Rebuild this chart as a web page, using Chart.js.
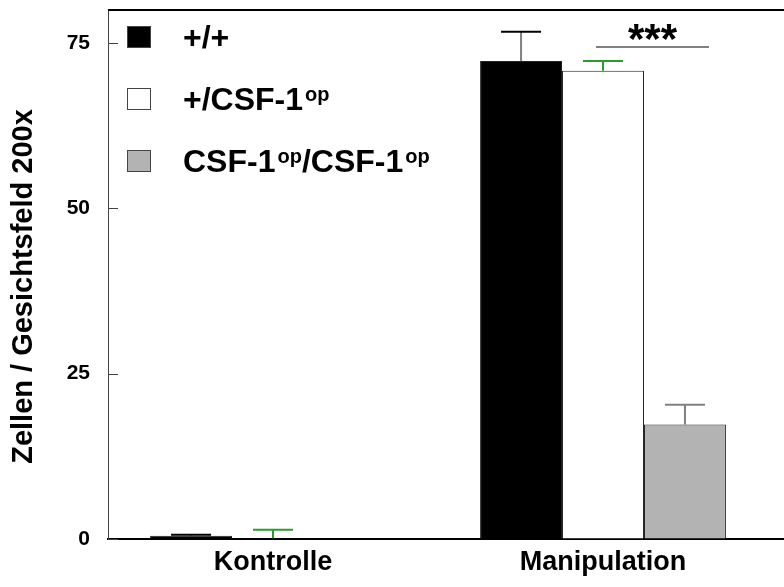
<!DOCTYPE html>
<html lang="de">
<head>
<meta charset="utf-8">
<title>Zellen / Gesichtsfeld 200x</title>
<script src="https://cdn.jsdelivr.net/npm/chart.js@4/dist/chart.umd.min.js"></script>
<style>
    html, body { margin: 0; padding: 0; background: #fff; }
    #wrap { position: relative; width: 784px; height: 587px; overflow: hidden; }
    #legend {
        position: absolute; left: 127px; top: 6px;
        font-family: "Liberation Sans", Arial, sans-serif; font-weight: bold; font-size: 32px; color: #000;
    }
    .item { display: flex; align-items: center; height: 62px; }
    .box { width: 24px; height: 22px; box-sizing: border-box; margin-right: 32px; border: 1px solid #444; }
    .item sup { font-size: 20px; vertical-align: 0; position: relative; top: -9px; margin-left: 2px; }
</style>
</head>
<body>
<div id="wrap">
    <canvas id="cellChart" width="784" height="587"></canvas>
    <div id="legend"></div>
</div>
<script>
// 数据
const categories = ['Kontrolle', 'Manipulation'];
const seriesNames = ['+/+', '+/CSF-1op', 'CSF-1op/CSF-1op'];
const wildtype = [0.5, 72.3];
const heterozygous = [0.1, 70.8];
const homozygous = [0, 17.3];
const wildtypeErr = [0.15, 4.4];
const heterozygousErr = [1.3, 1.5];
const homozygousErr = [0, 3.0];
const yTicks = [0, 25, 50, 75];
const yMax = 80;
const yTitle = 'Zellen / Gesichtsfeld 200x';
const sigLevel = 74.4;   // Höhe der Signifikanzlinie
const sigText = '***';

const seriesFill = ['#000000', '#ffffff', '#b3b3b3'];
const stemColors = ['#808080', '#2a9d2a', '#808080'];
const capColors = ['#000000', '#2a9d2a', '#808080'];
const FONT = '"Liberation Sans", Arial, sans-serif';

document.addEventListener('DOMContentLoaded', () => {
    buildLegend();
    initCellChart();
});

// Legende mit hochgestelltem "op"
function buildLegend() {
    const legend = document.getElementById('legend');
    seriesNames.forEach((name, i) => {
        const item = document.createElement('div');
        item.className = 'item';
        const box = document.createElement('span');
        box.className = 'box';
        box.style.background = seriesFill[i];
        const text = document.createElement('span');
        text.innerHTML = name.replace(/op/g, '<sup>op</sup>');
        item.appendChild(box);
        item.appendChild(text);
        legend.appendChild(item);
    });
}

// Fehlerbalken, Ticks nach innen, Rahmenlinien, Achsentitel, Signifikanz
const extrasPlugin = {
    id: 'extras',
    afterDatasetsDraw(chart) {
        const ctx = chart.ctx;
        const area = chart.chartArea;
        const y = chart.scales.y;
        const errors = [wildtypeErr, heterozygousErr, homozygousErr];

        ctx.save();
        chart.data.datasets.forEach((ds, i) => {
            const meta = chart.getDatasetMeta(i);
            meta.data.forEach((bar, j) => {
                const err = errors[i][j];
                if (!err) return;
                const base = y.getPixelForValue(ds.data[j]);
                const top = y.getPixelForValue(ds.data[j] + err);
                ctx.lineWidth = 2;
                ctx.strokeStyle = stemColors[i];
                ctx.beginPath();
                ctx.moveTo(bar.x, base);
                ctx.lineTo(bar.x, top);
                ctx.stroke();
                ctx.strokeStyle = capColors[i];
                ctx.beginPath();
                ctx.moveTo(bar.x - 20, top);
                ctx.lineTo(bar.x + 20, top);
                ctx.stroke();
            });
        });

        // Ticks nach innen
        ctx.strokeStyle = '#444';
        ctx.lineWidth = 1;
        yTicks.forEach(v => {
            const py = Math.round(y.getPixelForValue(v)) + 0.5;
            ctx.beginPath();
            ctx.moveTo(area.left, py);
            ctx.lineTo(area.left + 10, py);
            ctx.stroke();
        });

        // obere Linie, untere Linie bis zum rechten Rand verlängert
        ctx.strokeStyle = '#000';
        ctx.lineWidth = 2;
        ctx.beginPath();
        ctx.moveTo(area.left, area.top);
        ctx.lineTo(chart.width, area.top);
        ctx.moveTo(area.right, area.bottom);
        ctx.lineTo(chart.width, area.bottom);
        ctx.stroke();

        // Achsentitel
        ctx.save();
        ctx.translate(24, (area.top + area.bottom) / 2 + 12);
        ctx.rotate(-Math.PI / 2);
        ctx.fillStyle = '#000';
        ctx.font = 'bold 29px ' + FONT;
        ctx.textAlign = 'center';
        ctx.textBaseline = 'middle';
        ctx.fillText(yTitle, 0, 0);
        ctx.restore();

        // Signifikanz zwischen +/CSF-1op und CSF-1op/CSF-1op (Manipulation)
        const b1 = chart.getDatasetMeta(1).data[1];
        const b2 = chart.getDatasetMeta(2).data[1];
        const sy = y.getPixelForValue(sigLevel);
        ctx.strokeStyle = '#808080';
        ctx.lineWidth = 2;
        ctx.beginPath();
        ctx.moveTo(b1.x - 7, sy);
        ctx.lineTo(b2.x + 24, sy);
        ctx.stroke();
        ctx.fillStyle = '#000';
        ctx.font = 'bold 42px ' + FONT;
        ctx.textAlign = 'center';
        ctx.textBaseline = 'alphabetic';
        ctx.fillText(sigText, (b1.x - 7 + b2.x + 24) / 2, sy + 6);
        ctx.restore();
    }
};

function initCellChart() {
    const ctx = document.getElementById('cellChart').getContext('2d');
    const values = [wildtype, heterozygous, homozygous];

    new Chart(ctx, {
        type: 'bar',
        data: {
            labels: categories,
            datasets: seriesNames.map((name, i) => ({
                label: name,
                data: values[i],
                backgroundColor: seriesFill[i],
                borderColor: '#222',
                borderWidth: 1,
                barPercentage: 1,
                categoryPercentage: 0.745
            }))
        },
        options: {
            responsive: false,
            animation: false,
            devicePixelRatio: 1,
            layout: { padding: { top: 10, right: 16, left: 0, bottom: 0 } },
            plugins: {
                legend: { display: false },
                tooltip: { enabled: false }
            },
            scales: {
                x: {
                    grid: { display: true, drawOnChartArea: false, drawTicks: false },
                    border: { color: '#000', width: 2 },
                    ticks: {
                        color: '#000',
                        padding: 7,
                        font: { family: FONT, size: 27, weight: 'bold' }
                    },
                    afterFit(scale) {
                        scale.height = 48;
                        scale.paddingLeft = 0;
                        scale.paddingRight = 0;
                    }
                },
                y: {
                    min: 0,
                    max: yMax,
                    grid: { display: true, drawOnChartArea: false, drawTicks: false },
                    border: { color: '#444', width: 1 },
                    afterBuildTicks(scale) { scale.ticks = yTicks.map(v => ({ value: v })); },
                    ticks: {
                        color: '#000',
                        padding: 18,
                        font: { family: FONT, size: 21, weight: 'bold' }
                    },
                    afterFit(scale) {
                        scale.width = 108;
                        scale.paddingTop = 0;
                        scale.paddingBottom = 0;
                    }
                }
            }
        },
        plugins: [extrasPlugin]
    });
}
</script>
</body>
</html>
